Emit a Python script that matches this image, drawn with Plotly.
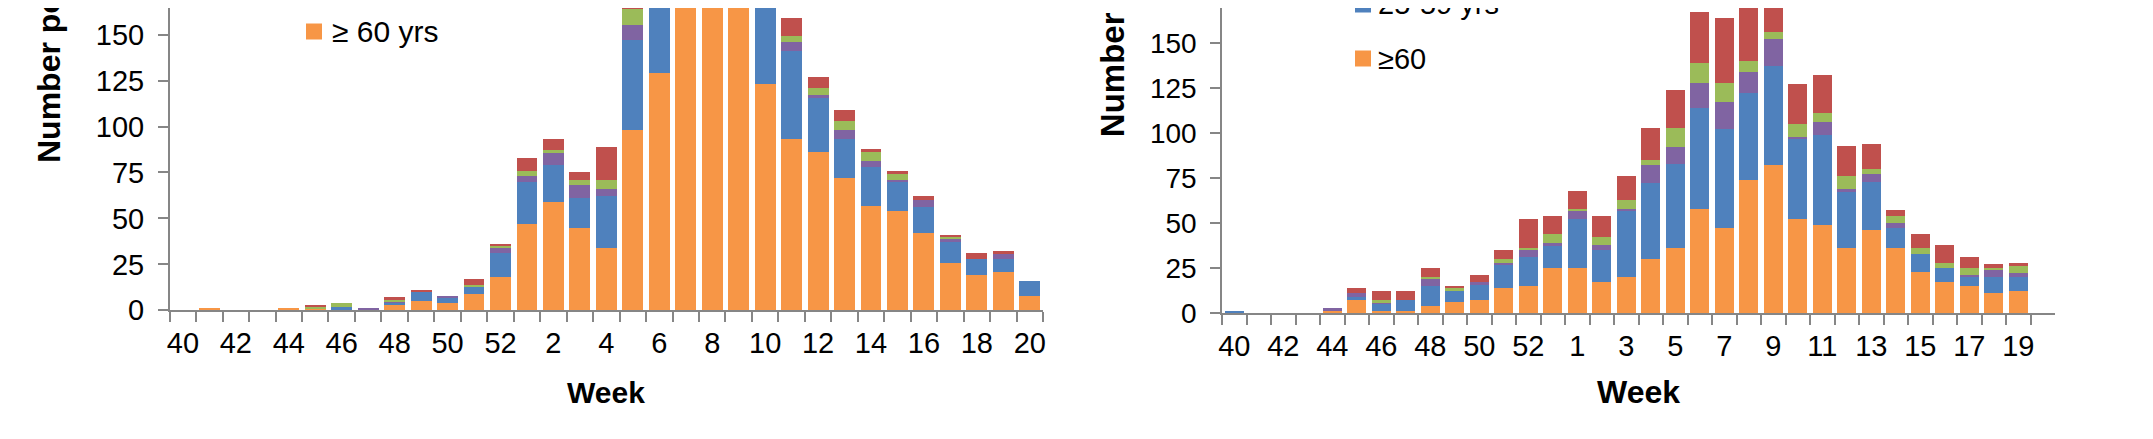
import plotly.graph_objects as go

W, H = 2153, 439

# ---------------- data ----------------
left_weeks = ["40", "41", "42", "43", "44", "45", "46", "47", "48", "49", "50", "51", "52",
              "1", "2", "3", "4", "5", "6", "7", "8", "9", "10", "11", "12", "13", "14",
              "15", "16", "17", "18", "19", "20"]
left_ticktext = ["40", "", "42", "", "44", "", "46", "", "48", "", "50", "", "52",
                 "", "2", "", "4", "", "6", "", "8", "", "10", "", "12", "", "14",
                 "", "16", "", "18", "", "20"]
left_ge60 = [0, 1, 0, 0, 1, 1, 0, 0, 3, 5, 4, 9, 18, 47, 59, 45, 34, 98, 129, 188, 205, 190, 123,
             93, 86, 72, 57, 54, 42, 26, 19, 21, 8]
left_25_59 = [0, 0, 0, 0, 0, 0, 2, 0, 1, 5, 3, 4, 13, 23, 20, 16, 28, 49, 62, 70, 68, 64, 55,
              48, 30, 21, 21, 16, 14, 11, 9, 7, 8]
left_15_24 = [0, 0, 0, 0, 0, 0, 0, 1, 1, 0, 1, 0, 3, 3, 7, 7, 4, 8, 8, 9, 10, 9, 7,
              5, 1, 5, 3, 1, 4, 2, 0, 3, 0]
left_5_14 = [0, 0, 0, 0, 0, 1, 2, 0, 1, 0, 0, 1, 1, 3, 1, 3, 5, 9, 9, 8, 9, 8, 6,
             3, 4, 5, 5, 3, 0, 1, 0, 0, 0]
left_0_4 = [0, 0, 0, 0, 0, 1, 0, 0, 1, 1, 0, 3, 1, 7, 6, 4, 18, 16, 20, 22, 24, 20, 15,
            10, 6, 6, 2, 2, 2, 1, 3, 1, 0]

right_weeks = ["40", "41", "42", "43", "44", "45", "46", "47", "48", "49", "50", "51", "52", "53",
               "1", "2", "3", "4", "5", "6", "7", "8", "9", "10", "11", "12", "13", "14",
               "15", "16", "17", "18", "19", "20"]
right_ticktext = ["40", "", "42", "", "44", "", "46", "", "48", "", "50", "", "52", "",
                  "1", "", "3", "", "5", "", "7", "", "9", "", "11", "", "13", "",
                  "15", "", "17", "", "19", ""]
right_ge60 = [0, 0, 0, 0, 1, 7, 1, 1, 4, 6, 7, 14, 15, 25, 25, 17, 20, 30, 36, 58, 47, 74, 82,
              52, 49, 36, 46, 36, 23, 17, 15, 11, 12, 0]
right_25_59 = [1, 0, 0, 0, 0, 2, 4, 6, 11, 6, 9, 13, 16, 12, 27, 18, 37, 42, 47, 56, 55, 48, 55,
               45, 50, 31, 27, 11, 10, 8, 5, 9, 8, 0]
right_15_24 = [0, 0, 0, 0, 2, 2, 1, 0, 4, 0, 1, 1, 4, 2, 5, 3, 1, 10, 9, 14, 15, 12, 15,
               1, 7, 2, 4, 3, 0, 0, 1, 4, 2, 0]
right_5_14 = [0, 0, 0, 0, 0, 0, 1, 0, 1, 2, 0, 2, 1, 5, 1, 4, 5, 3, 11, 11, 11, 6, 4,
              7, 5, 7, 3, 4, 3, 3, 4, 1, 4, 0]
right_0_4 = [0, 0, 0, 0, 0, 3, 5, 5, 5, 1, 4, 5, 16, 10, 10, 12, 13, 18, 21, 28, 36, 38, 20,
             22, 21, 17, 14, 3, 8, 10, 6, 2, 2, 0]

y_ticks = [0, 25, 50, 75, 100, 125, 150, 175]

ORANGE, BLUE, PURPLE, GREEN, RED = "#F79646", "#4F81BD", "#8064A2", "#9BBB59", "#C0504D"
FONT = "Liberation Sans, Arial, sans-serif"
AXC = "#868686"

series_left = [("≥ 60 yrs", left_ge60, ORANGE), ("25-59 yrs", left_25_59, BLUE),
               ("15-24 yrs", left_15_24, PURPLE), ("5-14 yrs", left_5_14, GREEN),
               ("0-4 yrs", left_0_4, RED)]
series_right = [("≥60", right_ge60, ORANGE), ("25-59 yrs", right_25_59, BLUE),
                ("15-24 yrs", right_15_24, PURPLE), ("5-14 yrs", right_5_14, GREEN),
                ("0-4 yrs", right_0_4, RED)]

fig = go.Figure()
for name, vals, col in series_left:
    fig.add_trace(go.Bar(x=left_weeks, y=vals, name=name, marker=dict(color=col, line=dict(width=0)),
                         xaxis="x", yaxis="y", showlegend=False))
for name, vals, col in series_right:
    fig.add_trace(go.Bar(x=right_weeks, y=vals, name=name, marker=dict(color=col, line=dict(width=0)),
                         xaxis="x2", yaxis="y2", showlegend=False))


def px(x):
    return x / W


def py(y):
    return 1 - y / H


def xaxis(cats, ticktext, dom, anchor):
    return dict(domain=dom, anchor=anchor, type="category", categoryorder="array",
                categoryarray=cats, range=[-0.5, len(cats) - 0.5],
                tickmode="array", tickvals=cats, ticktext=ticktext, tickangle=0,
                tickson="boundaries", ticks="outside", ticklen=10, tickwidth=1.5, tickcolor=AXC,
                showline=True, linecolor=AXC, linewidth=1.5, showgrid=False, zeroline=False,
                tickfont=dict(family=FONT, size=29, color="black"), automargin=False,
                ticklabelstandoff=6, fixedrange=True)


def yaxis(top, dom, anchor, fs):
    return dict(domain=dom, anchor=anchor, range=[0, top], tickmode="array", tickvals=y_ticks,
                ticks="outside", ticklen=10, tickwidth=1.5, tickcolor=AXC,
                showline=True, linecolor=AXC, linewidth=1.5, showgrid=False, zeroline=False,
                tickfont=dict(family=FONT, size=fs, color="black"), automargin=False,
                ticklabelstandoff=8, fixedrange=True)


fig.update_layout(
    width=W, height=H, margin=dict(l=0, r=0, t=0, b=0, pad=0),
    paper_bgcolor="white", plot_bgcolor="white",
    barmode="stack", bargap=0.21,
    xaxis=xaxis(left_weeks, left_ticktext, [px(161.7), px(1035)], "y"),
    yaxis=yaxis(164.5, [1 - 302.3 / H, 1], "x", 29),
    xaxis2=xaxis(right_weeks, right_ticktext, [px(1214), px(2047)], "y2"),
    yaxis2=yaxis(169.4, [1 - 305 / H, 1], "x2", 28),
    showlegend=False,
)

ann = []
# axis titles
ann.append(dict(text="<b>Week</b>", x=px(598), y=py(384), xref="paper", yref="paper",
                showarrow=False, xanchor="center", yanchor="middle",
                font=dict(family=FONT, size=30, color="black")))
ann.append(dict(text="<b>Week</b>", x=px(1630), y=py(384), xref="paper", yref="paper",
                showarrow=False, xanchor="center", yanchor="middle",
                font=dict(family=FONT, size=32, color="black")))
ann.append(dict(text="<b>Number positive</b>", x=px(40.5), y=py(157), xref="paper", yref="paper",
                showarrow=False, xanchor="center", yanchor="bottom", textangle=-90,
                font=dict(family=FONT, size=32, color="black")))
ann.append(dict(text="<b>Number positive</b>", x=px(1104), y=py(131.7), xref="paper", yref="paper",
                showarrow=False, xanchor="center", yanchor="bottom", textangle=-90,
                font=dict(family=FONT, size=33, color="black")))

# legends (partially visible, as in the cropped original)
shapes = []
legend_items = [
    ("≥ 60 yrs", ORANGE, 298, 23.5, 322, 30),
    ("25-59 yrs", BLUE, 1347, -3.5, 1368, 29),
    ("≥60", ORANGE, 1347, 50.5, 1368, 29),
]
for label, col, sx, sy, tx, fs in legend_items:
    s = 16
    shapes.append(dict(type="rect", xref="paper", yref="paper", x0=px(sx), x1=px(sx + s),
                       y0=py(sy + s / 2), y1=py(sy - s / 2), fillcolor=col, line=dict(width=0)))
    ann.append(dict(text=label, x=px(tx), y=py(sy), xref="paper", yref="paper", showarrow=False,
                    xanchor="left", yanchor="middle", font=dict(family=FONT, size=fs, color="black")))

fig.update_layout(annotations=ann, shapes=shapes)
fig.write_html("out.html")
